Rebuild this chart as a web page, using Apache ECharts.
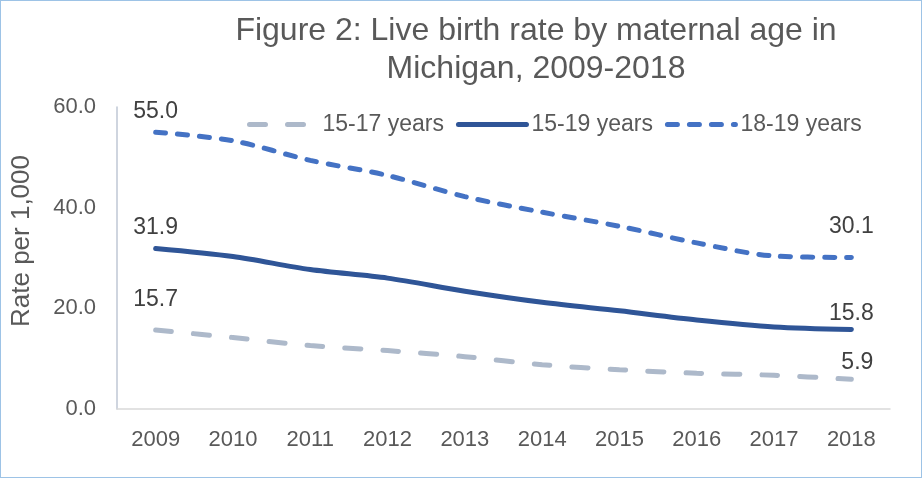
<!DOCTYPE html>
<html>
<head>
<meta charset="utf-8">
<script src="https://cdn.jsdelivr.net/npm/echarts@6/dist/echarts.min.js"></script>
<style>
    html, body { margin: 0; padding: 0; background: #fff; }
    #chart {
        width: 922px; height: 478px;
        box-sizing: border-box;
        border: 1px solid #9dc3e6;
    }
</style>
</head>
<body>
<div id="chart"></div>
<script>
// 年份与各年龄组出生率
const years = ['2009', '2010', '2011', '2012', '2013', '2014', '2015', '2016', '2017', '2018'];
const rate15to17 = [15.7, 14.2, 12.6, 11.6, 10.4, 8.8, 7.8, 7.1, 6.7, 5.9];
const rate15to19 = [31.9, 30.3, 27.7, 26.0, 23.4, 21.2, 19.5, 17.7, 16.3, 15.8];
const rate18to19 = [55.0, 53.3, 49.4, 46.4, 42.2, 39.1, 36.3, 33.0, 30.4, 30.1];
const yTicks = [0, 20, 40, 60];

const TEXT = '#595959';
const LABEL = '#404040';
const FONT = '"Liberation Sans", Arial, sans-serif';

// 只在首尾两点显示数值，offsets 为首/尾标签的微调
function buildData(values, firstOffset, lastOffset) {
    const last = values.length - 1;
    return values.map((v, i) => {
        if (i === 0) return { value: v, label: { show: true, offset: firstOffset } };
        if (i === last) return { value: v, label: { show: true, offset: lastOffset } };
        return { value: v };
    });
}

function makeSeries(name, values, color, type, firstOffset, lastOffset) {
    return {
        name: name,
        type: 'line',
        data: buildData(values, firstOffset, lastOffset),
        smooth: 0.3,
        symbol: 'circle',
        symbolSize: 0.1,
        showSymbol: true,
        lineStyle: { color: color, width: 5, type: type, cap: 'round' },
        itemStyle: { color: color },
        label: {
            show: false,
            position: 'top',
            distance: 9,
            color: LABEL,
            fontSize: 23,
            fontFamily: FONT,
            formatter: p => p.value.toFixed(1)
        },
        emphasis: { disabled: true },
        z: 3
    };
}

const chart = echarts.init(document.getElementById('chart'));
chart.setOption({
    animation: false,
    textStyle: { fontFamily: FONT },
    title: {
        text: 'Figure 2: Live birth rate by maternal age in\nMichigan, 2009-2018',
        left: 530,
        top: 6,
        textAlign: 'center',
        textStyle: { color: TEXT, fontSize: 32, fontWeight: 'normal', fontFamily: FONT, lineHeight: 38 }
    },
    legend: {
        left: 241,
        top: 107,
        itemWidth: 68,
        itemHeight: 14,
        itemGap: 12,
        itemStyle: { opacity: 0 },
        lineStyle: { width: 5, cap: 'round' },
        textStyle: { color: TEXT, fontSize: 23, fontFamily: FONT },
        data: ['15-17 years', '15-19 years', '18-19 years']
    },
    grid: { left: 116, right: 31, top: 106, bottom: 68 },
    xAxis: {
        type: 'category',
        data: years,
        boundaryGap: true,
        axisLine: { lineStyle: { color: '#d9d9d9', width: 1.5 } },
        axisTick: { show: false },
        axisLabel: { color: TEXT, fontSize: 22, margin: 20, fontFamily: FONT }
    },
    yAxis: {
        type: 'value',
        min: yTicks[0],
        max: yTicks[yTicks.length - 1],
        interval: 20,
        name: 'Rate per 1,000',
        nameLocation: 'middle',
        nameGap: 82,
        nameTextStyle: { color: TEXT, fontSize: 26, fontFamily: FONT, padding: [0, 0, 0, 34] },
        axisLine: { show: true, lineStyle: { color: '#bfc7d5', width: 1.5 } },
        axisTick: { show: false },
        splitLine: { show: false },
        axisLabel: { color: TEXT, fontSize: 22, margin: 21, fontFamily: FONT, formatter: v => v.toFixed(1) }
    },
    series: [
        makeSeries('15-17 years', rate15to17, '#adb9ca', [16, 22], [0, -10], [6, 4]),
        makeSeries('15-19 years', rate15to19, '#2f5597', 'solid', [0, 0], [0, 5]),
        makeSeries('18-19 years', rate18to19, '#4472c4', [10, 12], [0, 0], [0, -10])
    ]
});
</script>
</body>
</html>
